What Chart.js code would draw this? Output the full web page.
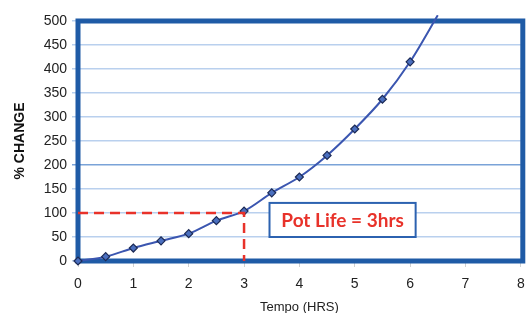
<!DOCTYPE html>
<html>
<head>
<meta charset="utf-8">
<script src="https://cdn.jsdelivr.net/npm/chart.js@4/dist/chart.umd.min.js"></script>
<style>
  html, body { margin: 0; padding: 0; background: #fff; }
  #wrap { width: 526px; height: 313px; }
</style>
</head>
<body>
<div id="wrap"><canvas id="potLifeChart" width="526" height="313"></canvas></div>
<script>
// --- data ---
const hours = [0, 0.5, 1, 1.5, 2, 2.5, 3, 3.5, 4, 4.5, 5, 5.5, 6, 6.5];
const change = [0, 9, 27, 42, 57, 84, 104, 142, 175, 220, 275, 337, 415, 512];
const guideX = [0, 3, 3];
const guideY = [100, 100, 0];
const noteText = "Pot Life = 3hrs";
const noteBox = { x0: 3.46, x1: 6.1, y0: 50, y1: 121 };

const BLUE = "#1f5ba6";
const RED = "#e8322a";

const frame = {
  id: "frame",
  beforeDatasetsDraw(chart) {
    const { ctx, chartArea: a } = chart;
    ctx.save();
    ctx.strokeStyle = BLUE;
    ctx.lineWidth = 5;
    ctx.strokeRect(a.left, a.top, a.right - a.left + 2, a.bottom - a.top);
    ctx.restore();
  }
};

const note = {
  id: "note",
  afterDatasetsDraw(chart) {
    const { ctx, scales: { x, y } } = chart;
    const l = x.getPixelForValue(noteBox.x0), r = x.getPixelForValue(noteBox.x1);
    const t = y.getPixelForValue(noteBox.y1), b = y.getPixelForValue(noteBox.y0);
    ctx.save();
    ctx.fillStyle = "#fff";
    ctx.fillRect(l, t, r - l, b - t);
    ctx.strokeStyle = "#2c62b0";
    ctx.lineWidth = 2;
    ctx.strokeRect(l, t, r - l, b - t);
    ctx.fillStyle = RED;
    ctx.font = "bold 19px Lato";
    ctx.textAlign = "center";
    ctx.textBaseline = "middle";
    ctx.fillText(noteText, (l + r) / 2, (t + b) / 2 + 1);
    ctx.restore();
  }
};

new Chart(document.getElementById("potLifeChart"), {
  type: "line",
  data: {
    datasets: [
      {
        data: guideX.map((v, i) => ({ x: v, y: guideY[i] })),
        borderColor: RED,
        borderWidth: 2.5,
        borderDash: [10, 6],
        pointRadius: 0,
        tension: 0
      },
      {
        data: hours.map((v, i) => ({ x: v, y: change[i] })),
        borderColor: "#3b56b0",
        borderWidth: 2,
        backgroundColor: "#4a6fbf",
        pointBorderColor: "#1c2a55",
        pointBorderWidth: 1.2,
        pointStyle: "rectRot",
        // last point only steers the curve past the top edge, it has no marker
        pointRadius: (c) => (c.dataIndex === hours.length - 1 ? 0 : 4),
        tension: 0.3,
        clip: { left: 5, top: 6, right: 5, bottom: 5 }
      }
    ]
  },
  options: {
    responsive: false,
    animation: false,
    layout: { padding: { top: 21, left: 0, right: 0, bottom: 0 } },
    plugins: { legend: { display: false }, tooltip: { enabled: false } },
    scales: {
      x: {
        type: "linear",
        min: 0,
        max: 8,
        ticks: { stepSize: 1, padding: 9, color: "#222", font: { family: "Liberation Sans", size: 14 } },
        grid: { color: "transparent", tickColor: "#d0d0d0", tickLength: 6 },
        border: { display: false },
        title: { display: true, text: "Tempo (HRS)", color: "#222", font: { family: "Liberation Sans", size: 13, lineHeight: 1 }, padding: { top: 0, bottom: -1 } },
        afterFit(s) { s.height = 52; s.paddingLeft = 0; s.paddingRight = 0; }
      },
      y: {
        min: 0,
        max: 500,
        ticks: { stepSize: 50, padding: 5, color: "#222", font: { family: "Liberation Sans", size: 14 } },
        grid: {
          color: (c) => (c.tick && c.tick.value === 200 ? "#7aa3d8" : "#b9d0ee"),
          lineWidth: 1.5,
          tickLength: 6
        },
        border: { display: false },
        title: { display: true, text: "% CHANGE", color: "#111", font: { family: "Liberation Sans", size: 14, weight: "bold" }, padding: { top: 12, bottom: 0 } },
        afterFit(s) { s.width = 78; s.paddingTop = 0; s.paddingBottom = 0; }
      }
    }
  },
  plugins: [frame, note]
});
</script>
</body>
</html>
